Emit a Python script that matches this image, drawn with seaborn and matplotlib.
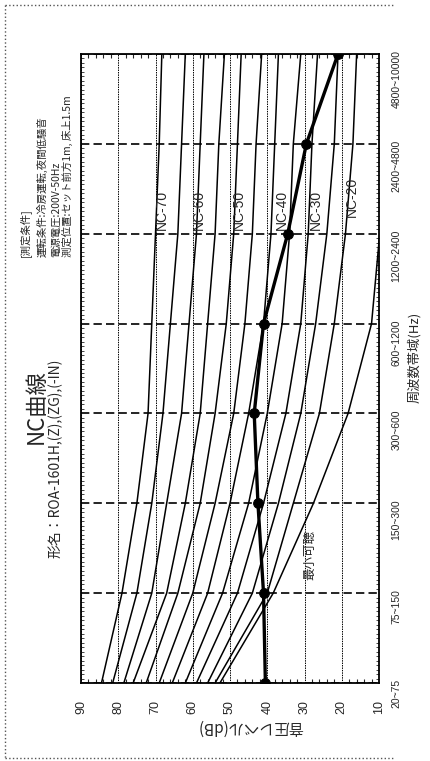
import pandas as pd
import numpy as np
import matplotlib
matplotlib.use('Agg')
import matplotlib.pyplot as plt
from matplotlib.ticker import MultipleLocator
from matplotlib.lines import Line2D
import seaborn as sns

# 周波数帯域 (Hz)
bands = ['20~75', '75~150', '150~300', '300~600', '600~1200', '1200~2400', '2400~4800', '4800~10000']
db_ticks = [90, 80, 70, 60, 50, 40, 30, 20, 10]

# NC曲線 (dB)
nc_names = ['NC-70', 'NC-65', 'NC-60', 'NC-55', 'NC-50', 'NC-45', 'NC-40', 'NC-35', 'NC-30', 'NC-25', 'NC-20']
nc70 = [84.5, 79, 75, 72, 71, 70, 69, 68.3]
nc65 = [81.5, 75, 71, 68, 66, 64, 63, 62]
nc60 = [78.5, 71, 67, 63, 61, 59, 58, 57]
nc55 = [76, 67, 62, 58, 56, 54, 53, 51.5]
nc50 = [72.5, 64, 58, 54, 51, 49, 48, 47]
nc45 = [69, 60, 54, 49, 46, 44, 43, 41.5]
nc40 = [65.5, 56, 50, 45, 41, 39, 38, 37]
nc35 = [62, 52, 45, 40, 36, 34, 33, 31]
nc30 = [59, 48, 41, 35, 31, 29, 28, 26.5]
nc25 = [56, 44, 37, 31, 27, 24, 22, 21]
nc20 = [54, 40, 33, 26, 22, 19, 17, 16]

# 最小可聴
min_audible = [52.7, 38.4, 27.6, 18.3, 12.0, 9.8, 6, 8]

# 測定値 ROA-1601H
measured = [40.5, 41, 42.5, 43.5, 41, 34.5, 29.5, 21]

# ラベル
labeled_nc = ['NC-70', 'NC-60', 'NC-50', 'NC-40', 'NC-30', 'NC-20']
title = 'NC曲線'
subtitle = '形名：ROA-1601H,(Z),(ZG),(-IN)'
conditions = ['[測定条件]', '運転条件:冷房運転,夜間低騒音', '電源電圧:200V-50Hz', '測定位置:セット前方1m, 床上1.5m']

W, H = 430, 761

sns.set_style('white')
plt.rcParams['font.family'] = ['Liberation Sans', 'Noto Sans CJK JP', 'DejaVu Sans']
jp = ['Noto Sans CJK JP', 'DejaVu Sans']

fig = plt.figure(figsize=(W / 100, H / 100), dpi=100)
ax = fig.add_axes([81 / W, 1 - 683 / H, (379 - 81) / W, (683 - 54) / H])

band_idx = list(range(len(bands)))
curves = [nc70, nc65, nc60, nc55, nc50, nc45, nc40, nc35, nc30, nc25, nc20]
nc_df = pd.concat([pd.DataFrame({'curve': n, 'band': band_idx, 'dB': v})
                   for n, v in zip(nc_names, curves)], ignore_index=True)

sns.lineplot(data=nc_df, x='dB', y='band', units='curve', estimator=None, sort=False,
             color='black', lw=1.1, legend=False, ax=ax)
sns.lineplot(x=min_audible, y=band_idx, estimator=None, sort=False, color='black', lw=1.1, ax=ax)
sns.lineplot(x=measured, y=band_idx, estimator=None, sort=False, color='black', lw=2.4,
             marker='o', markersize=7, markeredgecolor='black', ax=ax, zorder=5)

ax.set_xlim(90, 10)
ax.set_ylim(0, 7)
ax.set_xlabel('')
ax.set_ylabel('')
ax.set_xticks(db_ticks)
ax.set_xticklabels([str(v) for v in db_ticks], rotation=90)
ax.set_yticks(band_idx)
ax.set_yticklabels(bands, rotation=90)
ax.xaxis.set_minor_locator(MultipleLocator(2))
ax.yaxis.set_minor_locator(MultipleLocator(0.05))
ax.tick_params(axis='y', which='both', left=True, right=True, labelleft=False, labelright=True)
ax.tick_params(axis='x', which='both', bottom=True, top=True)
ax.tick_params(which='major', length=0)
ax.tick_params(axis='x', which='minor', direction='in', length=3, width=0.8)
ax.tick_params(axis='y', which='minor', direction='in', length=2, width=0.6)
ax.tick_params(axis='x', which='major', pad=12, labelsize=9)
ax.tick_params(axis='y', which='major', pad=9, labelsize=7.5)

ax.grid(True, axis='y', which='major', color='black', ls=(0, (5, 2.5)), lw=1.2)
ax.grid(True, axis='x', which='major', color='black', ls=(0, (1.5, 1)), lw=0.7)
for s in ax.spines.values():
    s.set_color('black')
    s.set_linewidth(1.3)

# NC ラベル
label_pos = {'NC-70': (68.25, 5.04), 'NC-60': (58.3, 5.04), 'NC-50': (47.6, 5.04),
             'NC-40': (36.0, 5.04), 'NC-30': (26.9, 5.04), 'NC-20': (17.25, 5.19)}
for name in labeled_nc:
    x, y = label_pos[name]
    ax.text(x, y, name, rotation=90, rotation_mode='anchor', ha='left', va='center', fontsize=10)
ax.text(28.5, 1.42, '最小可聴', rotation=90, ha='center', va='center', fontsize=9, family=jp)


def fx(px):
    return px / W


def fy(py):
    return 1 - py / H


fig.text(fx(36), fy(407), title, rotation=90, ha='center', va='center', fontsize=16, family=jp)
fig.text(fx(55), fy(458), subtitle, rotation=90, ha='center', va='center', fontsize=10, family=jp)
for cx, line in zip([25, 42, 56, 67], conditions):
    fig.text(fx(cx), fy(257), line, rotation=90, rotation_mode='anchor', ha='left', va='center',
             fontsize=7.5, family=jp)
fig.text(fx(414), fy(357), '周波数帯域(Hz)', rotation=90, ha='center', va='center', fontsize=9.5, family=jp)
fig.text(fx(250), fy(727), '音圧レベル(dB)', rotation=180, ha='center', va='center', fontsize=11, family=jp)

# 外枠
for xs, ys in [([5, 5], [5, 758]), ([5, 395], [5, 5]), ([5, 395], [758, 758])]:
    fig.add_artist(Line2D([fx(v) for v in xs], [fy(v) for v in ys], color='#555555', lw=1, ls=':'))

fig.savefig('out.png', dpi=100)
